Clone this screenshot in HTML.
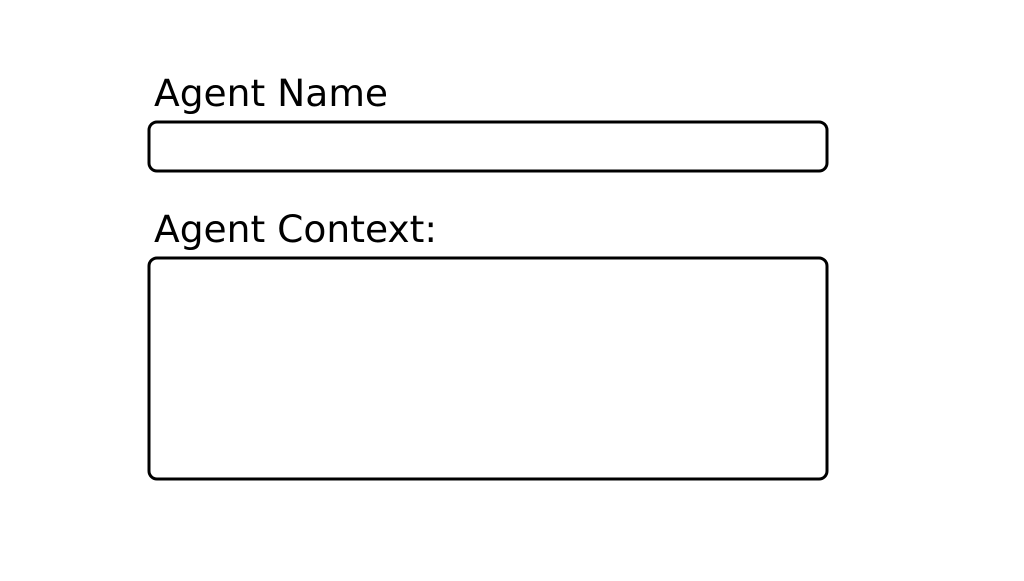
<!DOCTYPE html>
<html><head><style>html,body{margin:0;padding:0;background:#fff;}</style></head>
<body>
<svg width="1024" height="576" xmlns="http://www.w3.org/2000/svg">
<rect width="1024" height="576" fill="#fff"/>
<text x="154" y="106" font-family="DejaVu Sans, sans-serif" font-size="37.6" fill="#000">Agent Name</text>
<rect x="149" y="122" width="678" height="49" rx="8" ry="8" fill="none" stroke="#000" stroke-width="3"/>
<text x="154" y="242" font-family="DejaVu Sans, sans-serif" font-size="37.6" fill="#000">Agent Context:</text>
<rect x="149" y="258" width="678" height="221" rx="8" ry="8" fill="none" stroke="#000" stroke-width="3"/>
</svg>
</body></html>
